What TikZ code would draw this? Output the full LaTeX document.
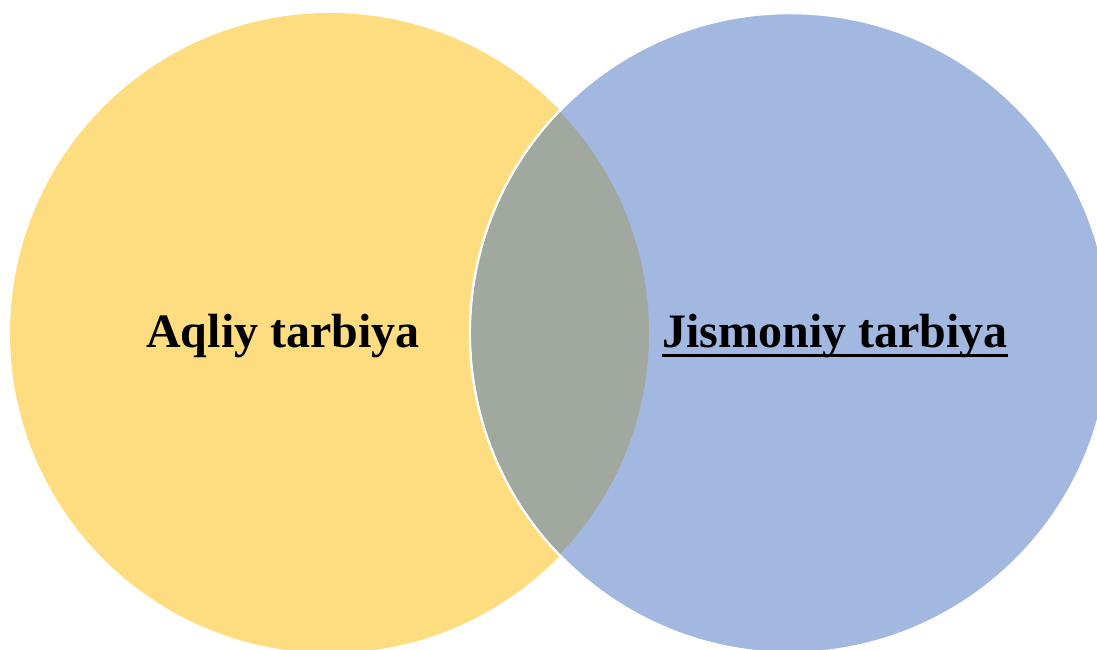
\documentclass[tikz,border=0pt]{standalone}
\usepackage{fontspec}
\setmainfont{Liberation Serif}
\usepackage{xcolor}
\definecolor{aql}{RGB}{254, 221, 128}
\definecolor{jis}{RGB}{162, 184, 224}
\definecolor{both}{RGB}{161, 168, 160}
\newcommand{\thickul}[1]{\setbox0=\hbox{#1}\rlap{\rule[-10pt]{\wd0}{3pt}}\box0}

\begin{document}
\begin{tikzpicture}[x=1pt, y=-1pt,
    label/.style={font=\fontsize{48}{57}\selectfont\bfseries, text=black, inner sep=0pt, anchor=base}]
        \useasboundingbox (0,0) rectangle (1097,650);
        \clip (0,0) rectangle (1097,650);
        \fill[aql] (330,333) circle (320);
        \filldraw[jis, draw=white, line width=2.5pt] (790,333) circle (320);
        \begin{scope}
            \clip (330,333) circle (319);
            \fill[both] (790,333) circle (318.8);
        \end{scope}
        \node[label] (aqliy) at (283,347) {Aqliy tarbiya};
        \node[label] (jismoniy) at (835,347) {\thickul{Jismoniy tarbiya}};
    \end{tikzpicture}
\end{document}
